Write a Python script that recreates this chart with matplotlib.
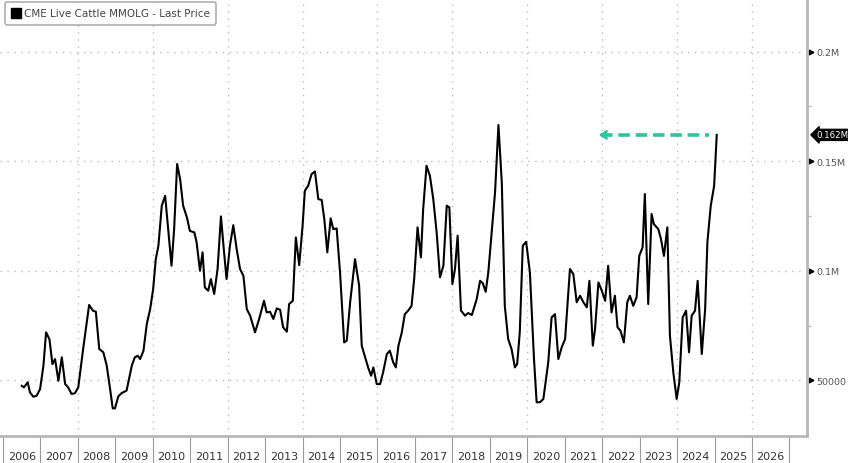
import matplotlib
matplotlib.use("Agg")
import matplotlib.pyplot as plt
import matplotlib.transforms as mtransforms
from matplotlib.lines import Line2D

# CME Live Cattle managed money longs (decimal year, thousands of contracts)
dates = [
    2006.50, 2006.56, 2006.66, 2006.72, 2006.81, 2006.90, 2006.99, 2007.08, 2007.15, 2007.24,
    2007.32, 2007.39, 2007.48, 2007.57, 2007.66, 2007.74, 2007.83, 2007.92, 2008.01, 2008.14,
    2008.30, 2008.40, 2008.48, 2008.57, 2008.68, 2008.77, 2008.86, 2008.93, 2008.99, 2009.08,
    2009.17, 2009.30, 2009.44, 2009.52, 2009.60, 2009.66, 2009.75, 2009.84, 2009.93, 2010.01,
    2010.08, 2010.15, 2010.24, 2010.33, 2010.41, 2010.50, 2010.57, 2010.65, 2010.73, 2010.81,
    2010.91, 2010.99, 2011.11, 2011.17, 2011.26, 2011.33, 2011.39, 2011.48, 2011.55, 2011.64,
    2011.73, 2011.82, 2011.90, 2011.97, 2012.06, 2012.15, 2012.24, 2012.33, 2012.42, 2012.51,
    2012.60, 2012.73, 2012.84, 2012.97, 2013.04, 2013.13, 2013.22, 2013.31, 2013.40, 2013.48,
    2013.58, 2013.64, 2013.74, 2013.82, 2013.91, 2014.00, 2014.06, 2014.15, 2014.24, 2014.33,
    2014.42, 2014.51, 2014.58, 2014.66, 2014.75, 2014.82, 2014.91, 2015.00, 2015.11, 2015.18,
    2015.27, 2015.40, 2015.51, 2015.58, 2015.67, 2015.75, 2015.83, 2015.89, 2015.98, 2016.07,
    2016.15, 2016.25, 2016.33, 2016.42, 2016.49, 2016.56, 2016.65, 2016.73, 2016.82, 2016.91,
    2016.98, 2017.07, 2017.16, 2017.22, 2017.31, 2017.40, 2017.49, 2017.58, 2017.67, 2017.76,
    2017.85, 2017.92, 2018.00, 2018.07, 2018.14, 2018.23, 2018.34, 2018.42, 2018.52, 2018.65,
    2018.74, 2018.81, 2018.89, 2018.96, 2019.05, 2019.14, 2019.23, 2019.32, 2019.40, 2019.49,
    2019.58, 2019.67, 2019.73, 2019.80, 2019.88, 2019.97, 2020.07, 2020.18, 2020.25, 2020.34,
    2020.43, 2020.56, 2020.65, 2020.74, 2020.83, 2020.92, 2021.01, 2021.14, 2021.23, 2021.32,
    2021.41, 2021.50, 2021.59, 2021.66, 2021.75, 2021.81, 2021.90, 2021.99, 2022.08, 2022.16,
    2022.25, 2022.34, 2022.41, 2022.49, 2022.58, 2022.67, 2022.74, 2022.83, 2022.92, 2022.99,
    2023.08, 2023.14, 2023.23, 2023.32, 2023.38, 2023.50, 2023.57, 2023.65, 2023.74, 2023.81,
    2023.90, 2023.99, 2024.06, 2024.15, 2024.24, 2024.32, 2024.39, 2024.48, 2024.55, 2024.66,
    2024.75, 2024.81, 2024.90, 2024.99, 2025.06,
]
mmolg_k = [
    47.5, 46.8, 49.1, 44.5, 42.5, 43.0, 46.0, 56.7, 71.9, 68.8,
    57.4, 59.7, 49.8, 60.5, 48.3, 46.8, 43.8, 44.1, 46.8, 64.3,
    84.4, 81.8, 81.3, 64.3, 62.8, 56.7, 46.0, 37.2, 37.2, 42.7,
    44.2, 45.3, 56.7, 60.5, 61.2, 59.7, 63.4, 75.7, 82.5, 91.7,
    105.3, 111.4, 129.7, 134.2, 119.0, 102.3, 119.0, 148.7, 141.8, 129.7,
    124.4, 118.2, 117.5, 113.0, 100.0, 108.4, 92.4, 90.9, 96.2, 89.4,
    100.8, 124.8, 109.1, 96.2, 111.4, 120.8, 109.9, 100.8, 97.7, 82.5,
    79.5, 71.9, 78.0, 86.3, 81.0, 81.3, 78.0, 82.8, 82.2, 74.2,
    72.2, 84.8, 86.3, 115.2, 102.6, 120.5, 136.5, 138.8, 144.1, 145.3,
    132.7, 132.3, 123.6, 108.4, 123.9, 119.0, 119.3, 99.3, 67.3, 68.1,
    85.6, 105.3, 93.2, 65.8, 60.5, 55.9, 52.1, 55.9, 48.3, 48.3,
    53.6, 62.0, 63.5, 58.2, 55.9, 65.8, 71.9, 80.2, 81.8, 84.0,
    96.2, 119.8, 106.1, 128.1, 147.9, 143.3, 132.7, 117.5, 97.0, 102.3,
    129.7, 128.9, 93.9, 100.8, 116.0, 81.8, 79.5, 80.7, 79.8, 87.1,
    95.4, 94.4, 90.4, 99.3, 117.5, 135.8, 166.5, 140.3, 84.0, 68.8,
    64.3, 55.9, 57.4, 71.9, 111.4, 113.2, 99.3, 59.7, 40.0, 40.0,
    41.5, 58.2, 78.7, 80.2, 59.7, 65.1, 68.8, 100.8, 98.5, 85.6,
    88.6, 85.6, 83.3, 95.4, 65.8, 73.4, 94.7, 90.9, 86.3, 102.3,
    81.0, 88.6, 74.2, 72.6, 67.3, 85.6, 88.6, 84.0, 87.9, 106.8,
    110.7, 135.0, 84.8, 125.9, 121.3, 119.0, 114.5, 106.8, 119.8, 70.3,
    53.6, 41.5, 49.1, 78.7, 81.8, 62.8, 79.5, 81.8, 95.4, 62.0,
    82.5, 113.0, 129.7, 138.8, 162.0,
]
years = list(range(2006, 2027))
y_ticks = [50000, 100000, 150000, 200000]
y_labels = ["50000", "0.1M", "0.15M", "0.2M"]
series_name = "CME Live Cattle MMOLG - Last Price"
last_label = "0.162M"

values = [v * 1000 for v in mmolg_k]

plt.rcParams["font.family"] = ["Liberation Sans Narrow", "DejaVu Sans"]

fig = plt.figure(figsize=(8.48, 4.64), dpi=100)
ax = fig.add_axes([0, 27 / 464, 807 / 848, 437 / 464])

ax.plot(dates, values, color="black", lw=1.5, solid_joinstyle="round")

ax.set_xlim(2005.92, 2027.47)
ax.set_ylim(24600, 224000)

# spines
for s in ["left", "top"]:
    ax.spines[s].set_visible(False)
for s in ["right", "bottom"]:
    ax.spines[s].set_color("#b8b8b8")
    ax.spines[s].set_linewidth(2)

# grid
ax.yaxis.tick_right()
ax.set_yticks(y_ticks)
ax.set_yticklabels(y_labels)
ax.set_yticks([75000, 125000, 175000], minor=True)
ax.tick_params(axis="y", which="major", length=0, pad=7, labelcolor="#555555")
ax.tick_params(axis="y", which="minor", length=3, color="#bbbbbb", width=1)
for lab in ax.get_yticklabels():
    lab.set_family(["DejaVu Sans"])
    lab.set_fontsize(6.8)
ax.grid(axis="y", which="major", linestyle=(0, (1, 4)), color="#bbbbbb", lw=1)
for yr in range(2008, 2027, 2):
    ax.axvline(yr, linestyle=(0, (1, 4)), color="#bbbbbb", lw=1, zorder=0)

# black tick arrows on the right axis
blend = mtransforms.blended_transform_factory(ax.transAxes, ax.transData)
ax.plot([1.005] * len(y_ticks), y_ticks, marker=">", color="black", markersize=3.5,
        linestyle="None", transform=blend, clip_on=False)

# x axis: separators at year boundaries, labels centred in each year
ax.set_xticks(list(range(2006, 2028)))
ax.set_xticklabels([])
ax.set_xticks([y + 0.5 for y in years], minor=True)
ax.set_xticklabels([str(y) for y in years], minor=True)
ax.tick_params(axis="x", which="major", length=21, width=0.8, color="#9a9a9a", direction="out")
ax.tick_params(axis="x", which="minor", length=0, pad=11, labelsize=8, labelcolor="#333333")

# last price tag
ax.text(1.012, values[-1], last_label, transform=blend, color="white", fontsize=6.2,
        family=["DejaVu Sans"], va="center", ha="left",
        bbox=dict(boxstyle="larrow,pad=0.12", fc="black", ec="black"), clip_on=False)

# dashed green arrow pointing back
arrow_y = values[-1]
ax.plot([2021.98, 2024.85], [arrow_y, arrow_y], color="#2cc4a2", lw=2.6,
        linestyle=(0, (3.2, 1.6)), solid_capstyle="butt")
ax.annotate("", xy=(2021.85, arrow_y), xytext=(2022.1, arrow_y),
            arrowprops=dict(arrowstyle="->,head_length=0.35,head_width=0.25",
                            color="#2cc4a2", lw=2))

# legend
handle = Line2D([], [], marker="s", color="black", linestyle="None", markersize=7.5)
leg = ax.legend([handle], [series_name], loc="upper left", bbox_to_anchor=(0.006, 0.993),
                fontsize=7.5, frameon=True, fancybox=True, handletextpad=0.3,
                handlelength=0.9, borderpad=0.6, borderaxespad=0)
leg.get_frame().set_edgecolor("#999999")
leg.get_frame().set_linewidth(1.2)
for t in leg.get_texts():
    t.set_color("#444444")

fig.savefig("out.png", dpi=100)
